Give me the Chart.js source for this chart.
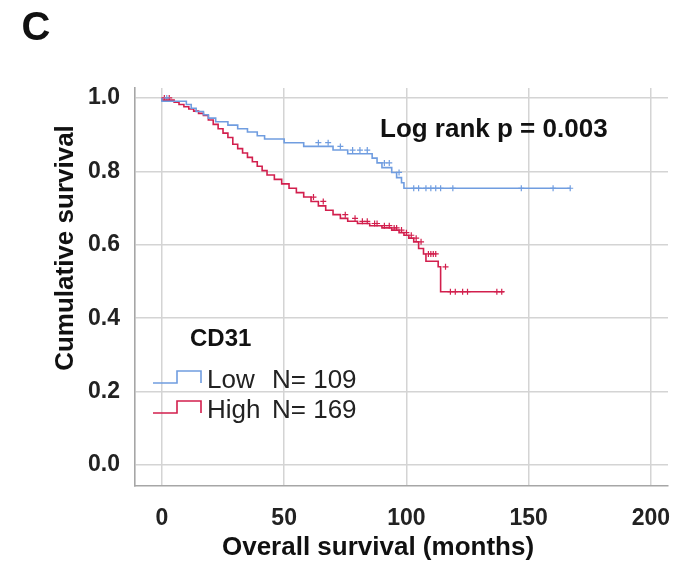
<!DOCTYPE html>
<html>
<head>
<meta charset="utf-8">
<script src="https://cdn.jsdelivr.net/npm/chart.js@4.4.1/dist/chart.umd.min.js"></script>
<style>
  html, body { margin: 0; padding: 0; background: #ffffff; }
  canvas { display: block; }
</style>
</head>
<body>
<canvas id="km" width="677" height="564"></canvas>
<script>
// Axis ticks
const xTicks = [0, 50, 100, 150, 200];
const yTicks = [0, 0.2, 0.4, 0.6, 0.8, 1.0];

// CD31 low group (N = 109): event times (months) and survival after each event
const lowTimes = [0, 10, 12, 14, 17, 19, 22, 27, 31, 35, 39, 42, 50, 58, 70, 76, 86, 88, 90, 94, 96, 98, 99, 101, 167];
const lowSurv  = [1.000, 0.991, 0.982, 0.972, 0.963, 0.954, 0.945, 0.935, 0.926, 0.916, 0.907, 0.897, 0.888, 0.878, 0.868, 0.858, 0.848, 0.836, 0.823, 0.810, 0.797, 0.783, 0.769, 0.754, 0.754];
const lowCensored = [2, 64, 68, 73, 78, 81, 84, 91, 93, 97, 103, 105, 108, 110, 112, 114, 119, 147, 160, 167];

// CD31 high group (N = 169)
const highTimes = [0, 5, 7, 9, 11, 13, 15, 17, 19, 21, 23, 25, 27, 29, 31, 33, 35, 37, 39, 41, 43, 46, 49, 52, 55, 58, 61, 64, 67, 70, 73, 76, 80, 85, 90, 94, 97, 99, 101, 103, 105, 107, 108, 113, 114, 118, 140];
const highSurv  = [1.000, 0.994, 0.988, 0.982, 0.976, 0.970, 0.964, 0.958, 0.952, 0.940, 0.928, 0.916, 0.904, 0.892, 0.874, 0.862, 0.850, 0.838, 0.826, 0.814, 0.802, 0.790, 0.778, 0.766, 0.754, 0.742, 0.730, 0.718, 0.706, 0.694, 0.682, 0.672, 0.664, 0.658, 0.652, 0.646, 0.640, 0.633, 0.626, 0.618, 0.608, 0.590, 0.575, 0.555, 0.540, 0.472, 0.472];
const highCensored = [1, 3, 62, 66, 75, 79, 82, 84, 87, 88, 91, 93, 95, 96, 98, 100, 102, 104, 106, 109, 110, 111, 112, 116, 118, 120, 123, 125, 137, 139];

const groupLabels = ['Low', 'High'];
const groupN = [109, 169];
const pValueText = 'Log rank p = 0.003';

const BLUE = '#709de0';
const RED = '#d21f4d';
const FONT = "'Liberation Sans', Arial, sans-serif";

// survival value of a step curve at time t
function survAt(times, surv, t) {
  let s = surv[0];
  for (let i = 0; i < times.length; i++) {
    if (times[i] <= t) s = surv[i]; else break;
  }
  return s;
}
const toPoints = (times, surv) => times.map((t, i) => ({ x: t, y: surv[i] }));
const censorPoints = (cens, times, surv) => cens.map(t => ({ x: t, y: survAt(times, surv, t) }));

// Titles, annotation and the group legend
const labelsPlugin = {
  id: 'kmLabels',
  afterDraw(chart) {
    const ctx = chart.ctx;
    ctx.save();
    ctx.fillStyle = '#111';
    ctx.textBaseline = 'middle';

    ctx.font = `bold 40px ${FONT}`;
    ctx.textAlign = 'center';
    ctx.fillText('C', 36, 29);

    ctx.font = `bold 26px ${FONT}`;
    ctx.fillText('Overall survival (months)', 378, 548);

    ctx.save();
    ctx.translate(66, 248);
    ctx.rotate(-Math.PI / 2);
    ctx.fillText('Cumulative survival', 0, 0);
    ctx.restore();

    ctx.textAlign = 'left';
    ctx.fillText(pValueText, 380, 130);

    ctx.font = `bold 24px ${FONT}`;
    ctx.fillText('CD31', 190, 339);

    const colors = [BLUE, RED];
    const rowsY = [383, 413];
    for (let i = 0; i < 2; i++) {
      const yb = rowsY[i];
      ctx.strokeStyle = colors[i];
      ctx.lineWidth = 1.6;
      ctx.beginPath();
      ctx.moveTo(153, yb);
      ctx.lineTo(177, yb);
      ctx.lineTo(177, yb - 12);
      ctx.lineTo(201, yb - 12);
      ctx.lineTo(201, yb);
      ctx.stroke();
      ctx.fillStyle = '#222';
      ctx.font = `26px ${FONT}`;
      ctx.fillText(groupLabels[i], 207, yb - 2);
      ctx.fillText('N= ' + groupN[i], 272, yb - 2);
    }
    ctx.restore();
  }
};

new Chart(document.getElementById('km'), {
  type: 'line',
  data: {
    datasets: [
      {
        label: 'Low',
        data: toPoints(lowTimes, lowSurv),
        borderColor: BLUE, borderWidth: 1.6, stepped: 'after',
        pointRadius: 0, fill: false
      },
      {
        label: 'High',
        data: toPoints(highTimes, highSurv),
        borderColor: RED, borderWidth: 1.6, stepped: 'after',
        pointRadius: 0, fill: false
      },
      {
        label: 'Low censored',
        data: censorPoints(lowCensored, lowTimes, lowSurv),
        showLine: false, pointStyle: 'cross', pointRadius: 3,
        pointBorderWidth: 1.2, borderColor: BLUE, pointBorderColor: BLUE
      },
      {
        label: 'High censored',
        data: censorPoints(highCensored, highTimes, highSurv),
        showLine: false, pointStyle: 'cross', pointRadius: 3,
        pointBorderWidth: 1.2, borderColor: RED, pointBorderColor: RED
      }
    ]
  },
  options: {
    responsive: false,
    animation: false,
    devicePixelRatio: 1,
    layout: { padding: { top: 88, right: 9, left: 0, bottom: 0 } },
    plugins: { legend: { display: false }, tooltip: { enabled: false } },
    scales: {
      x: {
        type: 'linear',
        min: -11, max: 207,
        afterBuildTicks: s => { s.ticks = xTicks.map(v => ({ value: v })); },
        afterFit: s => { s.height = 78; s.paddingLeft = 0; s.paddingRight = 0; },
        grid: { color: '#d4d4d4', lineWidth: 1.5, drawTicks: false },
        border: { color: '#a6a6a6', width: 1.6 },
        ticks: {
          font: { family: FONT, size: 23, weight: 'bold' },
          color: '#222', padding: 19, maxRotation: 0,
          callback: v => String(v)
        }
      },
      y: {
        type: 'linear',
        min: -0.057, max: 1.027,
        afterBuildTicks: s => { s.ticks = yTicks.map(v => ({ value: v })); },
        afterFit: s => { s.width = 135; s.paddingTop = 0; s.paddingBottom = 0; },
        grid: { color: '#d4d4d4', lineWidth: 1.5, drawTicks: false },
        border: { color: '#a6a6a6', width: 1.6 },
        ticks: {
          font: { family: FONT, size: 23, weight: 'bold' },
          color: '#222', padding: 15,
          callback: v => v.toFixed(1)
        }
      }
    }
  },
  plugins: [labelsPlugin]
});
</script>
</body>
</html>
